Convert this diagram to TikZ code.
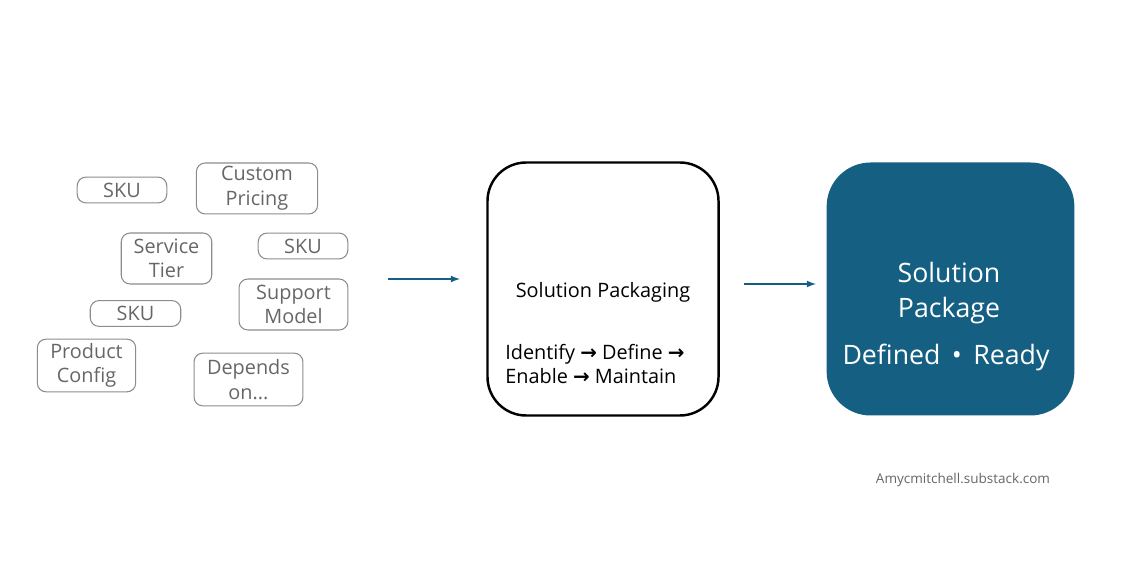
\documentclass[tikz,border=0pt]{standalone}
\usepackage{fontspec}
\setmainfont{Open Sans}
\newfontfamily\symfont{DejaVu Sans}
\usepackage{tikz}
\usetikzlibrary{positioning}
\definecolor{tealblue}{HTML}{156082}
\definecolor{chipgray}{HTML}{8C8C8C}
\definecolor{chiptext}{HTML}{666666}
\newcommand{\rarr}{{\symfont\bfseries\char"2192}}

\begin{document}
\begin{tikzpicture}[x=0.02cm,y=-0.02cm,>=latex,
    chip/.style={draw=chipgray,rounded corners=5pt,line width=0.6pt,text=chiptext,
      font=\fontsize{11.3}{14}\selectfont,align=center,inner sep=0pt,minimum height=14.7pt},
    core/.style={draw=black,line width=1.4pt,rounded corners=22pt,minimum width=131.5pt,minimum height=144pt},
    outcome/.style={fill=tealblue,rounded corners=25pt,minimum width=141pt,minimum height=144pt},
    flow/.style={->,draw=tealblue,line width=0.8pt}]
  \useasboundingbox (0,0) rectangle (1125,563);
  % scattered building blocks
  \node[chip,minimum width=51pt] (sku1) at (122,190) {SKU};
  \node[chip,minimum width=69pt,minimum height=29pt] (price) at (257,188.5) {Custom\\Pricing};
  \node[chip,minimum width=51.5pt,minimum height=29pt] (tier) at (166.5,258.5) {Service\\Tier};
  \node[chip,minimum width=51pt] (sku2) at (303,246) {SKU};
  \node[chip,minimum width=51.5pt] (sku3) at (135.5,313.5) {SKU};
  \node[chip,minimum width=62pt,minimum height=29pt] (support) at (293.5,304.5) {Support\\Model};
  \node[chip,minimum width=56pt,minimum height=30pt] (config) at (86.5,365.5) {Product\\Config};
  \node[chip,minimum width=62pt,minimum height=30pt] (depends) at (248.5,379.5) {Depends\\on...};
  % packaging step
  \node[core] (pack) at (603,289) {};
  \node[font=\fontsize{11.3}{14}\selectfont] (packtitle) at (603,292) {Solution Packaging};
  \node[font=\fontsize{11.3}{14}\selectfont,align=left,anchor=west,inner sep=0pt] (steps) at (505,364)
    {Identify \rarr{} Define \rarr{}\\Enable \rarr{} Maintain};
  % result
  \node[outcome] (result) at (950.5,289) {};
  \node[text=white,font=\fontsize{15.2}{19.5}\selectfont,align=center] (restitle) at (949,293) {Solution\\Package};
  \node[text=white,font=\fontsize{15.2}{17}\selectfont] (resstate) at (946,357) {Defined\, • \,Ready};
  % arrows
  \coordinate (a1) at (388,279); \coordinate (a2) at (460,279);
  \coordinate (b1) at (744,284); \coordinate (b2) at (816,284);
  \draw[flow] (a1) -- (a2);
  \draw[flow] (b1) -- (b2);
  \node[text=chiptext,font=\fontsize{7.7}{9}\selectfont] (credit) at (963,480) {Amycmitchell.substack.com};
\end{tikzpicture}
\end{document}
